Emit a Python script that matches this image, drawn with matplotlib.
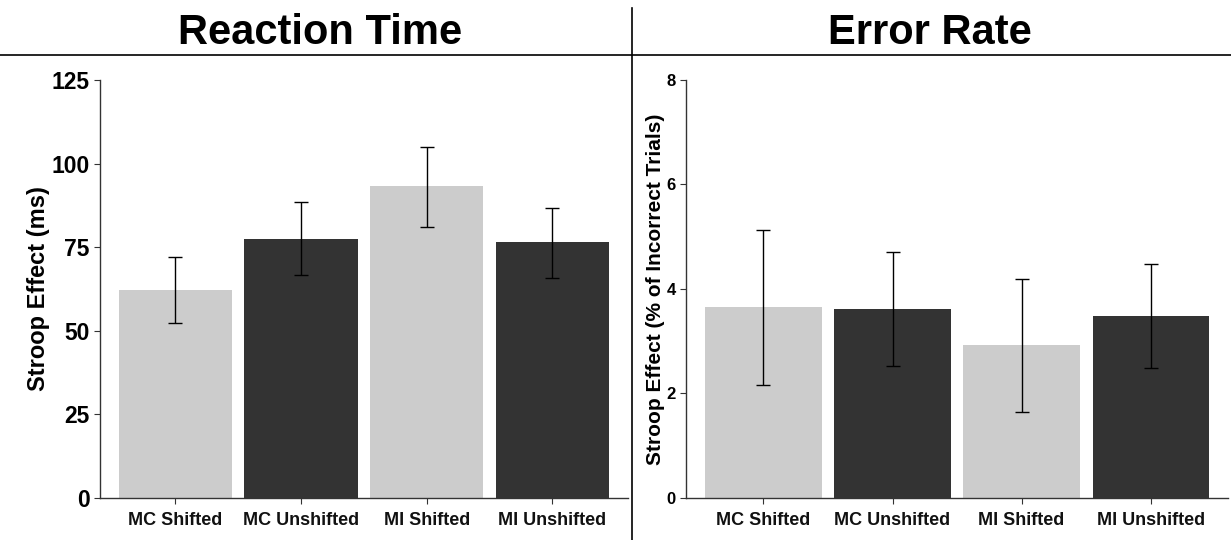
import matplotlib
matplotlib.use("Agg")
import matplotlib.pyplot as plt
import numpy as np

plt.rcParams['font.family'] = ['Liberation Sans', 'DejaVu Sans']

categories = ["MC Shifted", "MC Unshifted", "MI Shifted", "MI Unshifted"]
rt_values = [62.3, 77.4, 93.3, 76.5]
rt_lower = [52.4, 66.6, 81.0, 65.9]
rt_upper = [71.9, 88.4, 104.9, 86.8]
er_values = [3.66, 3.61, 2.93, 3.49]
er_lower = [2.17, 2.52, 1.65, 2.49]
er_upper = [5.13, 4.70, 4.19, 4.47]
bar_colors = ["#cccccc", "#333333", "#cccccc", "#333333"]

fig = plt.figure(figsize=(12.31, 5.4), dpi=100)

def panel(rect, vals, lo, hi, ylim, yticks, ylabel, ytick_size, ylabel_size, labelpad):
    ax = fig.add_axes(rect)
    x = np.arange(1, len(categories) + 1)
    ax.bar(x, vals, width=0.9, color=bar_colors, zorder=1)
    yerr = [np.array(vals) - np.array(lo), np.array(hi) - np.array(vals)]
    ax.errorbar(x, vals, yerr=yerr, fmt='none', ecolor='black', elinewidth=1,
                capsize=5, capthick=1, zorder=2)
    ax.set_xlim(0.4, 4.6)
    ax.set_ylim(*ylim)
    ax.set_yticks(yticks)
    ax.set_xticks(x)
    ax.set_xticklabels(categories, fontsize=13, fontweight='bold', color='#111111')
    for lab in ax.get_yticklabels():
        lab.set_fontsize(ytick_size)
        lab.set_fontweight('bold')
        lab.set_color('black')
    ax.set_ylabel(ylabel, fontsize=ylabel_size, fontweight='bold', labelpad=labelpad)
    for s in ['top', 'right']:
        ax.spines[s].set_visible(False)
    for s in ['left', 'bottom']:
        ax.spines[s].set_color('#333333')
        ax.spines[s].set_linewidth(1.0)
    ax.tick_params(axis='both', length=4, width=0.8, color='#333333')
    ax.tick_params(axis='x', pad=6)
    return ax

ax1 = panel([0.0812, 0.078, 0.4288, 0.774], rt_values, rt_lower, rt_upper,
            (0, 125), [0, 25, 50, 75, 100, 125], "Stroop Effect (ms)", 16.5, 17, 1)
ax2 = panel([0.5573, 0.078, 0.4403, 0.774], er_values, er_lower, er_upper,
            (0, 8), [0, 2, 4, 6, 8], "Stroop Effect (% of Incorrect Trials)", 12, 15, 1)

fig.text(320 / 1231, 1 - 33 / 540, "Reaction Time", fontsize=30, fontweight='bold',
         ha='center', va='center')
fig.text(930 / 1231, 1 - 33 / 540, "Error Rate", fontsize=30, fontweight='bold',
         ha='center', va='center')

fig.add_artist(plt.Line2D([0, 1], [1 - 55 / 540, 1 - 55 / 540], color='black', lw=1.2,
                          transform=fig.transFigure))
fig.add_artist(plt.Line2D([632 / 1231, 632 / 1231], [0, 1 - 8 / 540], color='black', lw=1.2,
                          transform=fig.transFigure))

fig.savefig("out.png", dpi=100, facecolor='white')
